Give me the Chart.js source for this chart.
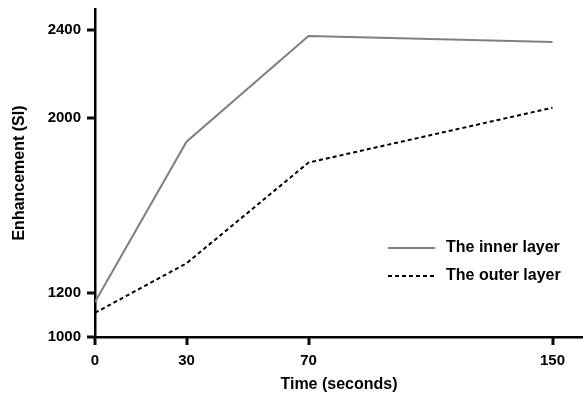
<!DOCTYPE html>
<html>
<head>
<meta charset="utf-8">
<script src="https://cdn.jsdelivr.net/npm/chart.js@4/dist/chart.umd.min.js"></script>
<style>
html,body{margin:0;padding:0;background:#fff;}
#wrap{width:583px;height:394px;position:relative;}
</style>
</head>
<body>
<div id="wrap"><canvas id="c" width="583" height="394"></canvas></div>
<script>
const times = [0, 30, 70, 150];
const innerLayer = [1160, 1890, 2372, 2345];
const outerLayer = [1110, 1336, 1795, 2045];
const xTicks = [0, 30, 70, 150];
const yTicks = [1000, 1200, 2000, 2400];
const seriesNames = ['The inner layer', 'The outer layer'];
const xTitle = 'Time (seconds)';
const yTitle = 'Enhancement (SI)';

const FONT = '"Liberation Sans", Arial, sans-serif';

const tickMarks = {
  id: 'tickMarks',
  afterRender(chart) {
    const ctx = chart.ctx;
    const xs = chart.scales.x, ys = chart.scales.y;
    const ca = chart.chartArea;
    ctx.save();
    ctx.fillStyle = '#0a0a0a';
    for (const v of xTicks) {
      const px = Math.round(xs.getPixelForValue(v));
      ctx.fillRect(px - 1.5, Math.round(ca.bottom), 3, 8);
    }
    for (const v of yTicks) {
      const py = Math.round(ys.getPixelForValue(v));
      ctx.fillRect(Math.round(ca.left) - 8, py - 1.5, 8, 3);
    }
    ctx.restore();
  }
};

const insideLegend = {
  id: 'insideLegend',
  afterDraw(chart) {
    const ctx = chart.ctx;
    ctx.save();
    chart.data.datasets.forEach((ds, i) => {
      const y = 248 + i * 28;
      ctx.beginPath();
      ctx.strokeStyle = ds.borderColor;
      ctx.lineWidth = ds.borderWidth;
      ctx.setLineDash(ds.borderDash || []);
      ctx.moveTo(388, y);
      ctx.lineTo(435, y);
      ctx.stroke();
      ctx.setLineDash([]);
      ctx.fillStyle = '#000';
      ctx.font = 'bold 16px ' + FONT;
      ctx.textBaseline = 'middle';
      ctx.textAlign = 'left';
      ctx.fillText(ds.label, 446, y);
    });
    ctx.restore();
  }
};

new Chart(document.getElementById('c'), {
  type: 'line',
  data: {
    datasets: [
      {
        label: seriesNames[0],
        data: times.map((t, i) => ({x: t, y: innerLayer[i]})),
        borderColor: '#7f7f7f',
        borderWidth: 2,
        pointRadius: 0,
        tension: 0,
        fill: false
      },
      {
        label: seriesNames[1],
        data: times.map((t, i) => ({x: t, y: outerLayer[i]})),
        borderColor: '#000000',
        borderWidth: 2,
        borderDash: [4, 3],
        pointRadius: 0,
        tension: 0,
        fill: false
      }
    ]
  },
  options: {
    responsive: false,
    animation: false,
    layout: {padding: {top: 9, right: 0, left: 0, bottom: 0}},
    plugins: {legend: {display: false}, tooltip: {enabled: false}},
    scales: {
      x: {
        type: 'linear',
        min: 0,
        max: 160,
        afterBuildTicks: s => { s.ticks = xTicks.map(v => ({value: v})); },
        afterFit: s => { s.height = 57; s.paddingRight = 0; s.paddingLeft = 0; },
        grid: {display: false},
        border: {display: true, color: '#000', width: 2.5},
        ticks: {color: '#000', font: {family: FONT, size: 15, weight: 'bold'}, padding: 7, maxRotation: 0, autoSkip: false, callback: v => String(v)},
        title: {display: true, text: xTitle, color: '#000', font: {family: FONT, size: 16, weight: 'bold'}, padding: {top: 4, bottom: 0}}
      },
      y: {
        type: 'linear',
        min: 1000,
        max: 2495,
        afterBuildTicks: s => { s.ticks = yTicks.map(v => ({value: v})); },
        afterFit: s => { s.width = 95; s.paddingTop = 0; s.paddingBottom = 0; },
        grid: {display: false},
        border: {display: true, color: '#000', width: 2.5},
        ticks: {color: '#000', font: {family: FONT, size: 15, weight: 'bold'}, padding: 6, autoSkip: false, callback: v => String(v)},
        title: {display: true, text: yTitle, color: '#000', font: {family: FONT, size: 16, weight: 'bold'}, padding: {top: 10, bottom: 4}}
      }
    }
  },
  plugins: [tickMarks, insideLegend]
});
</script>
</body>
</html>
